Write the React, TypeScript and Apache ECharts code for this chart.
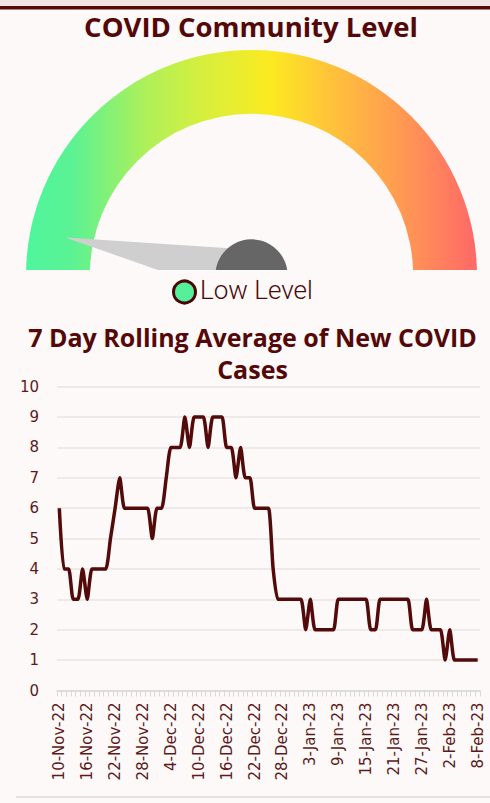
import React, { useEffect, useRef } from 'react';
import * as echarts from 'echarts';

// ---- data ----
const gaugeTitle = 'COVID Community Level';
const levelLabel = 'Low Level';
const levelValue = 6.4; // position of the needle on a 0-100 gauge
const lineTitle = '7 Day Rolling Average of New COVID\nCases';

const dates = [
  '10-Nov-22', '11-Nov-22', '12-Nov-22', '13-Nov-22', '14-Nov-22', '15-Nov-22', '16-Nov-22', '17-Nov-22', '18-Nov-22', '19-Nov-22',
  '20-Nov-22', '21-Nov-22', '22-Nov-22', '23-Nov-22', '24-Nov-22', '25-Nov-22', '26-Nov-22', '27-Nov-22', '28-Nov-22', '29-Nov-22',
  '30-Nov-22', '1-Dec-22', '2-Dec-22', '3-Dec-22', '4-Dec-22', '5-Dec-22', '6-Dec-22', '7-Dec-22', '8-Dec-22', '9-Dec-22',
  '10-Dec-22', '11-Dec-22', '12-Dec-22', '13-Dec-22', '14-Dec-22', '15-Dec-22', '16-Dec-22', '17-Dec-22', '18-Dec-22', '19-Dec-22',
  '20-Dec-22', '21-Dec-22', '22-Dec-22', '23-Dec-22', '24-Dec-22', '25-Dec-22', '26-Dec-22', '27-Dec-22', '28-Dec-22', '29-Dec-22',
  '30-Dec-22', '31-Dec-22', '1-Jan-23', '2-Jan-23', '3-Jan-23', '4-Jan-23', '5-Jan-23', '6-Jan-23', '7-Jan-23', '8-Jan-23',
  '9-Jan-23', '10-Jan-23', '11-Jan-23', '12-Jan-23', '13-Jan-23', '14-Jan-23', '15-Jan-23', '16-Jan-23', '17-Jan-23', '18-Jan-23',
  '19-Jan-23', '20-Jan-23', '21-Jan-23', '22-Jan-23', '23-Jan-23', '24-Jan-23', '25-Jan-23', '26-Jan-23', '27-Jan-23', '28-Jan-23',
  '29-Jan-23', '30-Jan-23', '31-Jan-23', '1-Feb-23', '2-Feb-23', '3-Feb-23', '4-Feb-23', '5-Feb-23', '6-Feb-23', '7-Feb-23',
  '8-Feb-23',
];

const rollingAverage = [
  6, 4, 4, 3, 3, 4, 3, 4, 4, 4,
  4, 5, 6, 7, 6, 6, 6, 6, 6, 6,
  5, 6, 6, 7, 8, 8, 8, 9, 8, 9,
  9, 9, 8, 9, 9, 9, 8, 8, 7, 8,
  7, 7, 6, 6, 6, 6, 4, 3, 3, 3,
  3, 3, 3, 2, 3, 2, 2, 2, 2, 2,
  3, 3, 3, 3, 3, 3, 3, 2, 2, 3,
  3, 3, 3, 3, 3, 3, 2, 2, 2, 3,
  2, 2, 2, 1, 2, 1, 1, 1, 1, 1,
  1,
];

const BG = '#fcf9f8';
const MAROON = '#540808';
const LABEL = '#5e1a1a';

export default function App() {
  const ref = useRef<HTMLDivElement>(null);

  useEffect(() => {
    if (!ref.current) return;
    const chart = echarts.init(ref.current, undefined, { renderer: 'svg' });

    const arcGradient = new echarts.graphic.LinearGradient(0, 0, 1, 0, [
      { offset: 0, color: '#4ff59c' },
      { offset: 0.1, color: '#5af294' },
      { offset: 0.27, color: '#b0f058' },
      { offset: 0.4, color: '#d8ef3c' },
      { offset: 0.54, color: '#fbea20' },
      { offset: 0.67, color: '#ffc43a' },
      { offset: 0.83, color: '#ff9a52' },
      { offset: 1, color: '#ff6868' },
    ]);

    chart.setOption({
      animation: false,
      backgroundColor: BG,
      graphic: [
        { type: 'rect', shape: { x: 0, y: 0, width: 490, height: 6 }, style: { fill: '#f2e3e3' } },
        { type: 'rect', shape: { x: 0, y: 6, width: 490, height: 3.5 }, style: { fill: MAROON } },
        {
          type: 'text', x: 251, y: 26,
          style: { text: gaugeTitle, fill: MAROON, fontFamily: 'Open Sans', fontWeight: 'bold', fontSize: 27.5, align: 'center', verticalAlign: 'middle' },
        },
        { type: 'rect', shape: { x: 0, y: 270, width: 490, height: 46 }, style: { fill: BG }, z: 100 },
        {
          type: 'circle', shape: { cx: 184.5, cy: 292, r: 11 },
          style: { fill: '#55f09a', stroke: '#4a0606', lineWidth: 3 }, z: 101,
        },
        {
          type: 'text', x: 200, y: 290, z: 101,
          style: { text: levelLabel, fill: '#4a0808', fontFamily: 'Roboto', fontWeight: 300, fontSize: 26, align: 'left', verticalAlign: 'middle' },
        },
        {
          type: 'text', x: 252.5, y: 353,
          style: { text: lineTitle, fill: MAROON, fontFamily: 'Open Sans', fontWeight: 'bold', fontSize: 25, lineHeight: 32, align: 'center', verticalAlign: 'middle' },
        },
        { type: 'line', shape: { x1: 16, y1: 797, x2: 490, y2: 797 }, style: { stroke: '#dedada', lineWidth: 1.5 } },
      ],
      grid: { left: 57, right: 10, top: 386.7, bottom: 112.5, containLabel: false },
      xAxis: {
        type: 'category',
        data: dates,
        boundaryGap: true,
        axisLine: { show: true, lineStyle: { color: '#d9d9d9', width: 1.5 } },
        axisTick: { show: true, interval: 0, length: 6, lineStyle: { color: '#d9d9d9', width: 1 } },
        axisLabel: {
          interval: 5, rotate: 90, margin: 12,
          color: LABEL, fontFamily: 'DejaVu Sans', fontSize: 15,
        },
      },
      yAxis: {
        type: 'value', min: 0, max: 10, interval: 1,
        axisLine: { show: false }, axisTick: { show: false },
        axisLabel: { color: LABEL, fontFamily: 'DejaVu Sans', fontSize: 15, margin: 18 },
        splitLine: { show: true, lineStyle: { color: '#e8e4e3', width: 1.5 } },
      },
      series: [
        {
          type: 'gauge',
          center: [251.5, 275.5],
          radius: 225.5,
          startAngle: 180,
          endAngle: 0,
          min: 0,
          max: 100,
          axisLine: { show: true, lineStyle: { width: 63.8, color: [[1, arcGradient]] } },
          splitLine: { show: false },
          axisTick: { show: false },
          axisLabel: { show: false },
          pointer: { show: true, icon: 'triangle', length: 190, width: 52, itemStyle: { color: '#cfcfcf' } },
          anchor: { show: true, showAbove: true, size: 72.4, itemStyle: { color: '#666666' } },
          title: { show: false },
          detail: { show: false },
          data: [{ value: levelValue, name: levelLabel }],
        },
        {
          type: 'line',
          data: rollingAverage,
          smooth: 0.2,
          symbol: 'none',
          lineStyle: { color: '#520a0a', width: 3.5 },
        },
      ],
    });

    return () => chart.dispose();
  }, []);

  return <div ref={ref} style={{ position: 'absolute', left: 0, top: 0, width: 490, height: 803 }} />;
}
